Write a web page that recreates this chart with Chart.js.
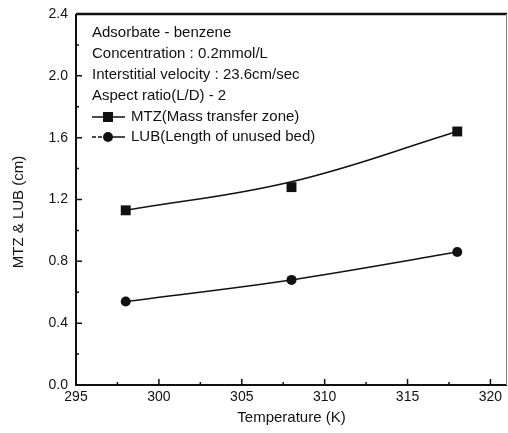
<!DOCTYPE html>
<html lang="en">
<head>
<meta charset="utf-8">
<script src="https://cdn.jsdelivr.net/npm/chart.js@4.4.1/dist/chart.umd.min.js"></script>
<style>
  html, body { margin: 0; padding: 0; background: #fff; }
  #chart { display: block; }
</style>
</head>
<body>
<canvas id="chart" width="508" height="433"></canvas>
<script>
// values
var temps = [298, 308, 318];
var mtzPoints = [1.13, 1.28, 1.64];
var mtzFit = [1.13, 1.315, 1.64];
var lubPoints = [0.54, 0.68, 0.86];
var xTicks = [295, 300, 305, 310, 315, 320];
var yTicks = [0, 0.4, 0.8, 1.2, 1.6, 2.0, 2.4];
var noteLines = [
  'Adsorbate - benzene',
  'Concentration : 0.2mmol/L',
  'Interstitial velocity : 23.6cm/sec',
  'Aspect ratio(L/D) - 2'
];
var seriesNames = ['MTZ(Mass transfer zone)', 'LUB(Length of unused bed)'];

var FONT = '"Liberation Sans", Arial, sans-serif';
var INK = '#111';

function pts(ys) {
  return temps.map(function (t, i) { return { x: t, y: ys[i] }; });
}

// frame, inward ticks, notes, legend and axis titles
var decor = {
  id: 'decor',
  afterDraw: function (c) {
    var ctx = c.ctx, a = c.chartArea;
    var xs = c.scales.x, ys = c.scales.y;
    ctx.save();

    // frame
    ctx.strokeStyle = INK;
    ctx.lineWidth = 2;
    ctx.beginPath();
    ctx.moveTo(a.left, a.top);
    ctx.lineTo(a.left, a.bottom);
    ctx.lineTo(a.right, a.bottom);
    ctx.stroke();
    ctx.lineWidth = 2.5;
    ctx.beginPath();
    ctx.moveTo(a.left, a.top);
    ctx.lineTo(a.right, a.top);
    ctx.stroke();
    ctx.strokeStyle = '#888';
    ctx.lineWidth = 1;
    ctx.beginPath();
    ctx.moveTo(a.right - 0.5, a.top);
    ctx.lineTo(a.right - 0.5, a.bottom);
    ctx.stroke();

    // ticks pointing inward
    ctx.strokeStyle = INK;
    ctx.lineWidth = 1.5;
    ctx.beginPath();
    for (var t = 295; t <= 320; t += 2.5) {
      var px = xs.getPixelForValue(t);
      var len = (t % 5 === 0) ? 6 : 3;
      ctx.moveTo(px, a.bottom);
      ctx.lineTo(px, a.bottom - len);
    }
    for (var v = 0; v <= 2.4001; v += 0.2) {
      var py = ys.getPixelForValue(v);
      var l2 = (Math.round(v * 10) % 4 === 0) ? 6 : 3;
      ctx.moveTo(a.left, py);
      ctx.lineTo(a.left + l2, py);
    }
    ctx.stroke();

    // notes
    ctx.fillStyle = INK;
    ctx.font = '15px ' + FONT;
    ctx.textAlign = 'left';
    ctx.textBaseline = 'middle';
    var x0 = a.left + 16;
    noteLines.forEach(function (s, i) {
      ctx.fillText(s, x0, 33 + i * 21);
    });

    // legend
    var rows = [117, 137];
    ctx.lineWidth = 1.5;
    rows.forEach(function (y, i) {
      ctx.beginPath();
      if (i === 1) ctx.setLineDash([4, 2]);
      ctx.moveTo(x0, y);
      ctx.lineTo(x0 + 15, y);
      ctx.stroke();
      ctx.setLineDash([]);
      ctx.beginPath();
      ctx.moveTo(x0 + 15, y);
      ctx.lineTo(x0 + 33, y);
      ctx.stroke();
      if (i === 0) {
        ctx.fillRect(x0 + 11, y - 5, 10, 10);
      } else {
        ctx.beginPath();
        ctx.arc(x0 + 16, y, 5, 0, Math.PI * 2);
        ctx.fill();
      }
      ctx.fillText(seriesNames[i], x0 + 39, y);
    });

    // axis titles
    ctx.textAlign = 'center';
    ctx.fillText('Temperature (K)', (a.left + a.right) / 2, 418);
    ctx.save();
    ctx.translate(19, 212);
    ctx.rotate(-Math.PI / 2);
    ctx.fillText('MTZ & LUB (cm)', 0, 0);
    ctx.restore();

    ctx.restore();
  }
};

new Chart(document.getElementById('chart').getContext('2d'), {
  type: 'line',
  data: {
    datasets: [
      {
        label: 'MTZ fit',
        data: pts(mtzFit),
        borderColor: INK,
        borderWidth: 1.5,
        pointRadius: 0,
        tension: 0.4,
        fill: false
      },
      {
        label: seriesNames[0],
        data: pts(mtzPoints),
        showLine: false,
        pointStyle: 'rect',
        pointRadius: 7,
        backgroundColor: INK,
        borderColor: INK,
        borderWidth: 0
      },
      {
        label: seriesNames[1],
        data: pts(lubPoints),
        borderColor: INK,
        borderWidth: 1.5,
        pointStyle: 'circle',
        pointRadius: 5,
        backgroundColor: INK,
        pointBorderWidth: 0,
        tension: 0.3,
        fill: false
      }
    ]
  },
  options: {
    responsive: false,
    animation: false,
    layout: {
      autoPadding: false,
      padding: { top: 14, right: 1, left: 0, bottom: 0 }
    },
    plugins: {
      legend: { display: false },
      tooltip: { enabled: false }
    },
    scales: {
      x: {
        type: 'linear',
        min: 295,
        max: 321,
        afterBuildTicks: function (s) {
          s.ticks = xTicks.map(function (v) { return { value: v }; });
        },
        afterFit: function (s) {
          s.height = 48;
          s.paddingLeft = 0;
          s.paddingRight = 0;
        },
        grid: { display: false, drawTicks: false },
        border: { display: false },
        ticks: {
          padding: 4,
          color: INK,
          font: { family: FONT, size: 14 }
        }
      },
      y: {
        min: 0,
        max: 2.4,
        afterBuildTicks: function (s) {
          s.ticks = yTicks.map(function (v) { return { value: v }; });
        },
        afterFit: function (s) {
          s.width = 76;
          s.paddingTop = 0;
          s.paddingBottom = 0;
        },
        grid: { display: false, drawTicks: false },
        border: { display: false },
        ticks: {
          padding: 8,
          color: INK,
          font: { family: FONT, size: 14 },
          callback: function (v) { return v.toFixed(1); }
        }
      }
    }
  },
  plugins: [decor]
});
</script>
</body>
</html>
